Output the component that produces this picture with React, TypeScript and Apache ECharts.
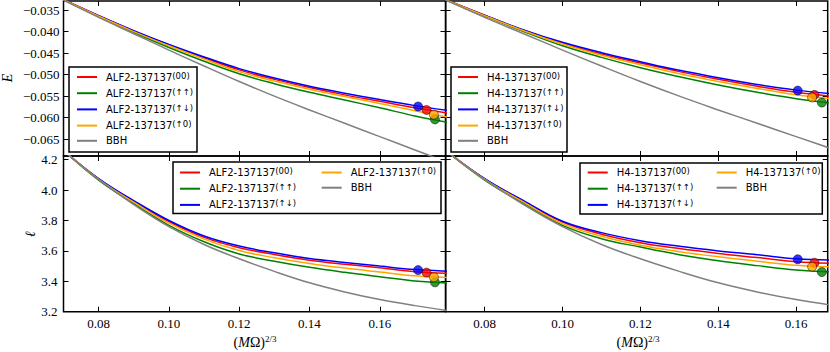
import React, { useEffect, useRef } from "react";
import * as echarts from "echarts";

// (MΩ)^{2/3} sample points of the curves
const XS = [0.07, 0.08, 0.09, 0.1, 0.11, 0.12, 0.13, 0.14, 0.15, 0.16, 0.17, 0.18];

// Binding energy E
const BBH_E = [-0.0327, -0.0367, -0.0405, -0.0443, -0.048, -0.0516, -0.055, -0.0582, -0.0613, -0.0644, -0.0675, -0.0706];
const ALF2_E_00 = [-0.0326, -0.0363, -0.0399, -0.0431, -0.0461, -0.0489, -0.0511, -0.053, -0.0547, -0.0562, -0.0577, -0.059];
const ALF2_E_UU = [-0.0326, -0.0365, -0.0402, -0.0437, -0.0469, -0.0498, -0.0521, -0.0541, -0.0559, -0.0577, -0.0596, -0.0612];
const ALF2_E_UD = [-0.0326, -0.0363, -0.0398, -0.043, -0.0459, -0.0486, -0.0508, -0.0527, -0.0543, -0.0558, -0.0572, -0.0584];
const ALF2_E_U0 = [-0.0326, -0.0364, -0.04, -0.0433, -0.0464, -0.0493, -0.0515, -0.0534, -0.0551, -0.0567, -0.0584, -0.06];
const H4_E_00 = [-0.0326, -0.0362, -0.0397, -0.0427, -0.0452, -0.0473, -0.0493, -0.0511, -0.0527, -0.0541, -0.0551];
const H4_E_UU = [-0.0326, -0.0364, -0.04, -0.0433, -0.046, -0.0484, -0.0505, -0.0524, -0.0541, -0.0556, -0.0567];
const H4_E_UD = [-0.0326, -0.0362, -0.0396, -0.0425, -0.0449, -0.047, -0.049, -0.0507, -0.0523, -0.0536, -0.0545];
const H4_E_U0 = [-0.0326, -0.0363, -0.0398, -0.0429, -0.0455, -0.0477, -0.0498, -0.0516, -0.0532, -0.0547, -0.0557];

// Angular momentum ℓ
const BBH_L = [4.26, 4.07, 3.905, 3.76, 3.642, 3.548, 3.465, 3.39, 3.33, 3.28, 3.24, 3.205];
const ALF2_L_00 = [4.26, 4.074, 3.926, 3.792, 3.689, 3.621, 3.576, 3.539, 3.512, 3.489, 3.463, 3.452];
const ALF2_L_UU = [4.26, 4.065, 3.91, 3.768, 3.66, 3.58, 3.532, 3.492, 3.459, 3.43, 3.402, 3.388];
const ALF2_L_UD = [4.26, 4.075, 3.93, 3.8, 3.698, 3.632, 3.587, 3.55, 3.524, 3.5, 3.477, 3.466];
const ALF2_L_U0 = [4.26, 4.071, 3.92, 3.782, 3.677, 3.602, 3.555, 3.517, 3.487, 3.461, 3.436, 3.424];
const H4_L_00 = [4.26, 4.074, 3.927, 3.789, 3.71, 3.654, 3.615, 3.583, 3.556, 3.528, 3.518];
const H4_L_UU = [4.26, 4.066, 3.912, 3.768, 3.68, 3.625, 3.575, 3.535, 3.503, 3.475, 3.462];
const H4_L_UD = [4.26, 4.075, 3.93, 3.795, 3.72, 3.667, 3.63, 3.6, 3.575, 3.548, 3.54];
const H4_L_U0 = [4.26, 4.071, 3.921, 3.779, 3.696, 3.637, 3.595, 3.561, 3.532, 3.505, 3.494];

// End points (order: 00, ↑↑, ↑↓, ↑0) as [x, value]
const ALF2_E_END = [[0.1733, -0.0582], [0.1757, -0.0604], [0.1709, -0.0574], [0.1754, -0.0593]];
const ALF2_L_END = [[0.1733, 3.457], [0.1757, 3.393], [0.1709, 3.474], [0.1754, 3.426]];
const H4_E_END = [[0.1647, -0.0547], [0.1666, -0.0565], [0.1604, -0.0537], [0.1641, -0.0553]];
const H4_L_END = [[0.1647, 3.522], [0.1666, 3.461], [0.1604, 3.545], [0.1641, 3.496]];

// Tick positions
const X_TICKS = [0.08, 0.1, 0.12, 0.14, 0.16];
const E_TICKS = [-0.065, -0.06, -0.055, -0.05, -0.045, -0.04, -0.035];
const L_TICKS = [3.2, 3.4, 3.6, 3.8, 4.0, 4.2];

const SUPS = ["(00)", "(↑↑)", "(↑↓)", "(↑0)"];
const COLORS = ["#ff0000", "#008000", "#0000ff", "#ffa500"];
const BBH_COLOR = "#808080";

const X_MIN = 0.07;
const X_MAX_ALF2 = 0.1787;
const X_MAX_H4 = 0.1681;
const E_MIN = -0.0689;
const E_MAX = -0.0329;
const L_MIN = 3.2;
const L_MAX = 4.224;

const SERIF = "Liberation Serif";
const SANS = "DejaVu Sans";

export default function App() {
  const ref = useRef<HTMLDivElement>(null);
  useEffect(() => {
    document.body.style.margin = "0";
    const chart = echarts.init(ref.current!, null, { renderer: "svg" });

    const gridRects = [
      { left: 63.5, top: 1, width: 382, height: 155 },
      { left: 445.7, top: 1, width: 382, height: 155 },
      { left: 63.5, top: 156, width: 382, height: 155.7 },
      { left: 445.7, top: 156, width: 382, height: 155.7 },
    ];
    const panels = [
      { model: "ALF2", xMax: X_MAX_ALF2, kind: "E", lines: [ALF2_E_00, ALF2_E_UU, ALF2_E_UD, ALF2_E_U0], bbh: BBH_E, ends: ALF2_E_END },
      { model: "H4", xMax: X_MAX_H4, kind: "E", lines: [H4_E_00, H4_E_UU, H4_E_UD, H4_E_U0], bbh: BBH_E, ends: H4_E_END },
      { model: "ALF2", xMax: X_MAX_ALF2, kind: "L", lines: [ALF2_L_00, ALF2_L_UU, ALF2_L_UD, ALF2_L_U0], bbh: BBH_L, ends: ALF2_L_END },
      { model: "H4", xMax: X_MAX_H4, kind: "L", lines: [H4_L_00, H4_L_UU, H4_L_UD, H4_L_U0], bbh: BBH_L, ends: H4_L_END },
    ];

    const xAxis: any[] = [];
    const yAxis: any[] = [];
    const series: any[] = [];

    panels.forEach((p, g) => {
      const bottomRow = g >= 2;
      const leftCol = g % 2 === 0;
      const xt = X_TICKS.filter((v) => v < p.xMax);
      const xBase = {
        type: "value", gridIndex: g, min: X_MIN, max: p.xMax,
        splitLine: { show: false }, axisLine: { show: false },
        axisTick: { inside: true, length: 5, lineStyle: { color: "#000", width: 1 }, customValues: xt },
      };
      xAxis.push({
        ...xBase, position: "bottom",
        axisLabel: {
          show: bottomRow, margin: 5, color: "#000", fontFamily: SERIF, fontSize: 13,
          customValues: xt, formatter: (v: number) => v.toFixed(2),
        },
      });
      xAxis.push({ ...xBase, position: "top", axisLabel: { show: false } });

      const isE = p.kind === "E";
      const yt = isE ? E_TICKS : L_TICKS;
      const yBase = {
        type: "value", gridIndex: g,
        min: isE ? E_MIN : L_MIN, max: isE ? E_MAX : L_MAX,
        splitLine: { show: false }, axisLine: { show: false },
        axisTick: { inside: true, length: 5, lineStyle: { color: "#000", width: 1 }, customValues: yt },
      };
      yAxis.push({
        ...yBase, position: "left",
        axisLabel: {
          show: leftCol, margin: isE ? 4 : 6, color: "#000", fontFamily: SERIF, fontSize: 13,
          customValues: yt,
          formatter: (v: number) => (isE ? "\u2212" + Math.abs(v).toFixed(3) : v.toFixed(1)),
        },
      });
      yAxis.push({ ...yBase, position: "right", axisLabel: { show: false } });

      p.lines.forEach((arr, k) => {
        series.push({
          type: "line", name: `${p.model}-137137|${SUPS[k]}`,
          xAxisIndex: 2 * g, yAxisIndex: 2 * g,
          data: arr.map((v, i) => [XS[i], v]),
          symbol: "none", smooth: 0.4, clip: true,
          lineStyle: { color: COLORS[k], width: 1.5 }, itemStyle: { color: COLORS[k] },
          z: 2,
        });
      });
      series.push({
        type: "line", name: "BBH", xAxisIndex: 2 * g, yAxisIndex: 2 * g,
        data: p.bbh.map((v, i) => [XS[i], v]),
        symbol: "none", smooth: 0.4, clip: true,
        lineStyle: { color: BBH_COLOR, width: 1.5 }, itemStyle: { color: BBH_COLOR },
        z: 2,
      });
      series.push({
        type: "scatter", name: `end-${g}`, xAxisIndex: 2 * g, yAxisIndex: 2 * g,
        symbol: "circle", symbolSize: 9, clip: false, z: 3,
        data: p.ends.map((pt, k) => ({
          value: pt,
          itemStyle: { color: COLORS[k], borderColor: "#000", borderWidth: 0.6 },
        })),
      });
    });

    const legendText = {
      color: "#000", fontFamily: SANS, fontSize: 10,
      rich: {
        m: { fontFamily: SANS, fontSize: 10, lineHeight: 12, padding: [0, 0, 0, 4], color: "#000" },
        s: { fontFamily: SANS, fontSize: 8.5, lineHeight: 9, verticalAlign: "top", color: "#000" },
      },
    };
    const fmt = (name: string) => {
      const [a, b] = name.split("|");
      return b ? `{m|${a}}{s|${b}}` : `{m|${a}}`;
    };
    const names = (model: string) => SUPS.map((s) => `${model}-137137|${s}`);
    const mkLegend = (left: number, top: number, data: string[]) => ({
      left, top, orient: "vertical", padding: 0, icon: "rect", itemWidth: 20, itemHeight: 2, itemGap: 5.2,
      selectedMode: false, textStyle: legendText, formatter: fmt, data, z: 60,
    });
    const la = names("ALF2");
    const lh = names("H4");
    const legend = [
      mkLegend(77, 71, [...la, "BBH"]),
      mkLegend(458, 71, [...lh, "BBH"]),
      mkLegend(180, 166.5, la.slice(0, 3)),
      mkLegend(321.7, 166.5, [la[3], "BBH"]),
      mkLegend(587.7, 166.5, lh.slice(0, 3)),
      mkLegend(716.7, 166.5, [lh[3], "BBH"]),
    ];

    const box = (x: number, y: number, w: number, h: number) => ({
      type: "rect", shape: { x, y, width: w, height: h }, z: 50,
      style: { fill: "#fff", stroke: "#000", lineWidth: 1.5 },
    });
    const xLabelRich = {
      r: { fontFamily: SERIF, fontSize: 14, color: "#000", lineHeight: 16 },
      i: { fontFamily: SERIF, fontSize: 14, fontStyle: "italic", color: "#000", lineHeight: 16 },
      s: { fontFamily: SERIF, fontSize: 9, color: "#000", lineHeight: 9, verticalAlign: "top" },
    };
    const xLabel = (cx: number) => ({
      type: "text", x: cx, y: 342, z: 50,
      style: { text: "{r|(}{i|M}{r|Ω)}{s|2/3}", rich: xLabelRich, align: "center", verticalAlign: "middle" },
    });

    const graphic = [
      box(69, 67, 128, 85),
      box(451, 67, 116, 85),
      box(173, 162, 268, 51.5),
      box(580, 163, 242.3, 51),
      xLabel(255),
      xLabel(638),
      {
        type: "text", x: 7, y: 78, rotation: Math.PI / 2, z: 50,
        style: { text: "E", font: `italic 14px '${SERIF}'`, fill: "#000", align: "center", verticalAlign: "middle" },
      },
      {
        type: "text", x: 30, y: 234, rotation: Math.PI / 2, z: 50,
        style: { text: "ℓ", font: `italic 14px '${SERIF}'`, fill: "#000", align: "center", verticalAlign: "middle" },
      },
    ];

    chart.setOption({
      animation: false,
      backgroundColor: "#fff",
      grid: gridRects.map((r) => ({ ...r, show: true, borderColor: "#000", borderWidth: 1.5, backgroundColor: "transparent" })),
      xAxis, yAxis, series, legend, graphic,
    });
    return () => chart.dispose();
  }, []);
  return <div ref={ref} style={{ width: 830, height: 352 }} />;
}
